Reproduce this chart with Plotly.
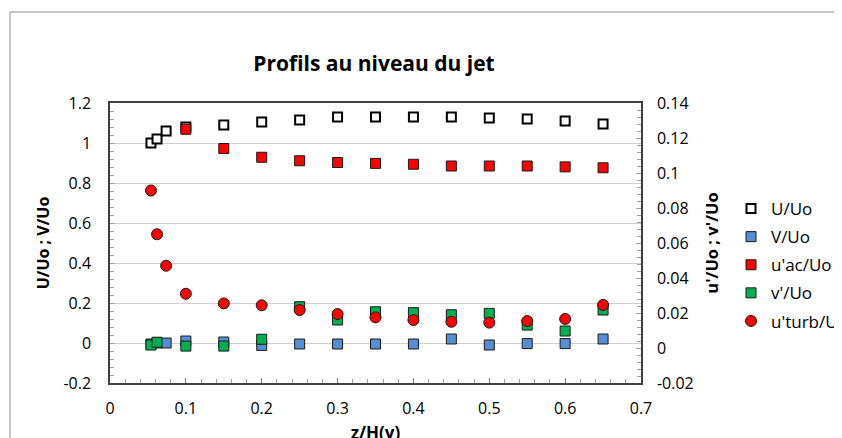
import plotly.graph_objects as go

# positions along z/H(y)
z_all = [0.054, 0.062, 0.074, 0.1, 0.15, 0.2, 0.25, 0.3, 0.35, 0.4, 0.45, 0.5, 0.55, 0.6, 0.65]
z_uac = [0.1, 0.15, 0.2, 0.25, 0.3, 0.35, 0.4, 0.45, 0.5, 0.55, 0.6, 0.65]
z_vrms = [0.054, 0.062, 0.1, 0.15, 0.2, 0.25, 0.3, 0.35, 0.4, 0.45, 0.5, 0.55, 0.6, 0.65]

# left axis series
u_mean = [1.0, 1.02, 1.06, 1.08, 1.09, 1.105, 1.115, 1.13, 1.13, 1.13, 1.13, 1.125, 1.12, 1.11, 1.095]
v_mean = [-0.005, 0.0, 0.0, 0.01, 0.005, -0.012, -0.005, -0.005, -0.005, -0.005, 0.02, -0.01, -0.003, -0.003, 0.02]

# right axis series
u_ac = [0.125, 0.114, 0.109, 0.107, 0.106, 0.1055, 0.105, 0.104, 0.104, 0.104, 0.1035, 0.103]
v_rms = [0.0017, 0.0033, 0.0011, 0.0011, 0.005, 0.0236, 0.016, 0.0207, 0.0202, 0.019, 0.0198, 0.0131, 0.0097, 0.0217]
u_turb = [0.09, 0.065, 0.047, 0.031, 0.0255, 0.0244, 0.0217, 0.0194, 0.0175, 0.016, 0.015, 0.0145, 0.0154, 0.0166, 0.0246]

# tick labels (plain hyphen for negatives, as in the original)
y1_ticks = [-0.2, 0, 0.2, 0.4, 0.6, 0.8, 1, 1.2]
y1_labels = ["-0.2", "0", "0.2", "0.4", "0.6", "0.8", "1", "1.2"]
y2_ticks = [-0.02, 0, 0.02, 0.04, 0.06, 0.08, 0.1, 0.12, 0.14]
y2_labels = ["-0.02", "0", "0.02", "0.04", "0.06", "0.08", "0.1", "0.12", "0.14"]

FONT = "Open Sans, sans-serif"
AXIS_COLOR = "#404040"

W, H = 842, 438
OFFSET = 8  # the page body margin shifts the figure by 8px

# plot area on screen: x 110..641, y 103..383
L, T = 110 - OFFSET, 103 - OFFSET
PW, PH = 531, 280
R, B = W - L - PW, H - T - PH


def px_to_paper_x(px):
    return (px - OFFSET - L) / PW


def px_to_paper_y(py):
    return (T + PH - (py - OFFSET)) / PH


fig = go.Figure()
fig.add_trace(go.Scatter(
    x=z_all, y=u_mean, name="U/Uo", mode="markers", legendgroup="a",
    marker=dict(symbol="square", size=9, color="white", line=dict(color="black", width=2)),
))
fig.add_trace(go.Scatter(
    x=z_all, y=v_mean, name="V/Uo", mode="markers", legendgroup="b",
    marker=dict(symbol="square", size=10, color="#558ED5", line=dict(color="#1a1a1a", width=1)),
))
fig.add_trace(go.Scatter(
    x=z_uac, y=u_ac, name="u'ac/Uo", mode="markers", yaxis="y2", legendgroup="c",
    marker=dict(symbol="square", size=10, color="#FF0000", line=dict(color="#1a1a1a", width=1)),
))
fig.add_trace(go.Scatter(
    x=z_vrms, y=v_rms, name="v'/Uo", mode="markers", yaxis="y2", legendgroup="d",
    marker=dict(symbol="square", size=10, color="#00B050", line=dict(color="#1a1a1a", width=1)),
))
fig.add_trace(go.Scatter(
    x=z_all, y=u_turb, name="u'turb/Uo", mode="markers", yaxis="y2", legendgroup="e",
    marker=dict(symbol="circle", size=11, color="#FF0000", line=dict(color="#1a1a1a", width=1)),
))

fig.update_layout(
    width=W,
    height=H,
    margin=dict(l=L, r=R, t=T, b=B, autoexpand=False),
    paper_bgcolor="white",
    plot_bgcolor="white",
    font=dict(family=FONT, size=16, color="black"),
    title=dict(
        text="<b>Profils au niveau du jet</b>",
        x=px_to_paper_x(374), xref="paper", xanchor="center",
        y=1 - (64 - OFFSET) / H, yanchor="middle",
        font=dict(family=FONT, size=21, color="black"),
    ),
    xaxis=dict(
        range=[0, 0.7], dtick=0.1, tickformat="~g",
        showgrid=False, zeroline=False,
        showline=True, linecolor=AXIS_COLOR, linewidth=1.5, mirror=True,
        ticks="inside", ticklen=5, tickcolor="#808080",
        minor=dict(dtick=0.02, ticks="inside", ticklen=4, tickcolor="#a0a0a0"),
        ticklabelstandoff=10,
        title=dict(text="<b>z/H(y)</b>", standoff=9, font=dict(size=17)),
    ),
    yaxis=dict(
        range=[-0.2, 1.2], tickmode="array", tickvals=y1_ticks, ticktext=y1_labels,
        showgrid=True, gridcolor="#d0d0d0", gridwidth=1,
        zeroline=False,
        showline=True, linecolor=AXIS_COLOR, linewidth=1.5, mirror=True,
        ticks="inside", ticklen=5, tickcolor="#a0a0a0",
        minor=dict(tickmode="linear", tick0=0, dtick=0.04, ticks="inside", ticklen=4, tickcolor="#a0a0a0"),
        ticklabelstandoff=14,
        title=dict(text="<b>U/Uo ; V/Uo</b>", standoff=10, font=dict(size=16)),
    ),
    yaxis2=dict(
        range=[-0.02, 0.14], tickmode="array", tickvals=y2_ticks, ticktext=y2_labels,
        overlaying="y", side="right",
        showgrid=False, zeroline=False,
        showline=True, linecolor=AXIS_COLOR, linewidth=1.5,
        ticks="inside", ticklen=5, tickcolor="#a0a0a0",
        minor=dict(tickmode="linear", tick0=0, dtick=0.004, ticks="inside", ticklen=4, tickcolor="#a0a0a0"),
        ticklabelstandoff=11,
        title=dict(text="<b>u'/Uo ; v'/Uo</b>", standoff=14, font=dict(size=16.5)),
    ),
    legend=dict(
        x=px_to_paper_x(731), xanchor="left",
        y=px_to_paper_y(191), yanchor="top",
        tracegroupgap=3,
        font=dict(family=FONT, size=17, color="black"),
        bgcolor="rgba(0,0,0,0)",
    ),
    shapes=[
        # chart frame (left and top edges visible)
        dict(type="line", xref="paper", yref="paper",
             x0=px_to_paper_x(10), x1=px_to_paper_x(860),
             y0=px_to_paper_y(12), y1=px_to_paper_y(12),
             line=dict(color="#8c8c8c", width=1)),
        dict(type="line", xref="paper", yref="paper",
             x0=px_to_paper_x(10), x1=px_to_paper_x(10),
             y0=px_to_paper_y(12), y1=px_to_paper_y(460),
             line=dict(color="#8c8c8c", width=1)),
    ],
)

fig.write_html("out.html")
